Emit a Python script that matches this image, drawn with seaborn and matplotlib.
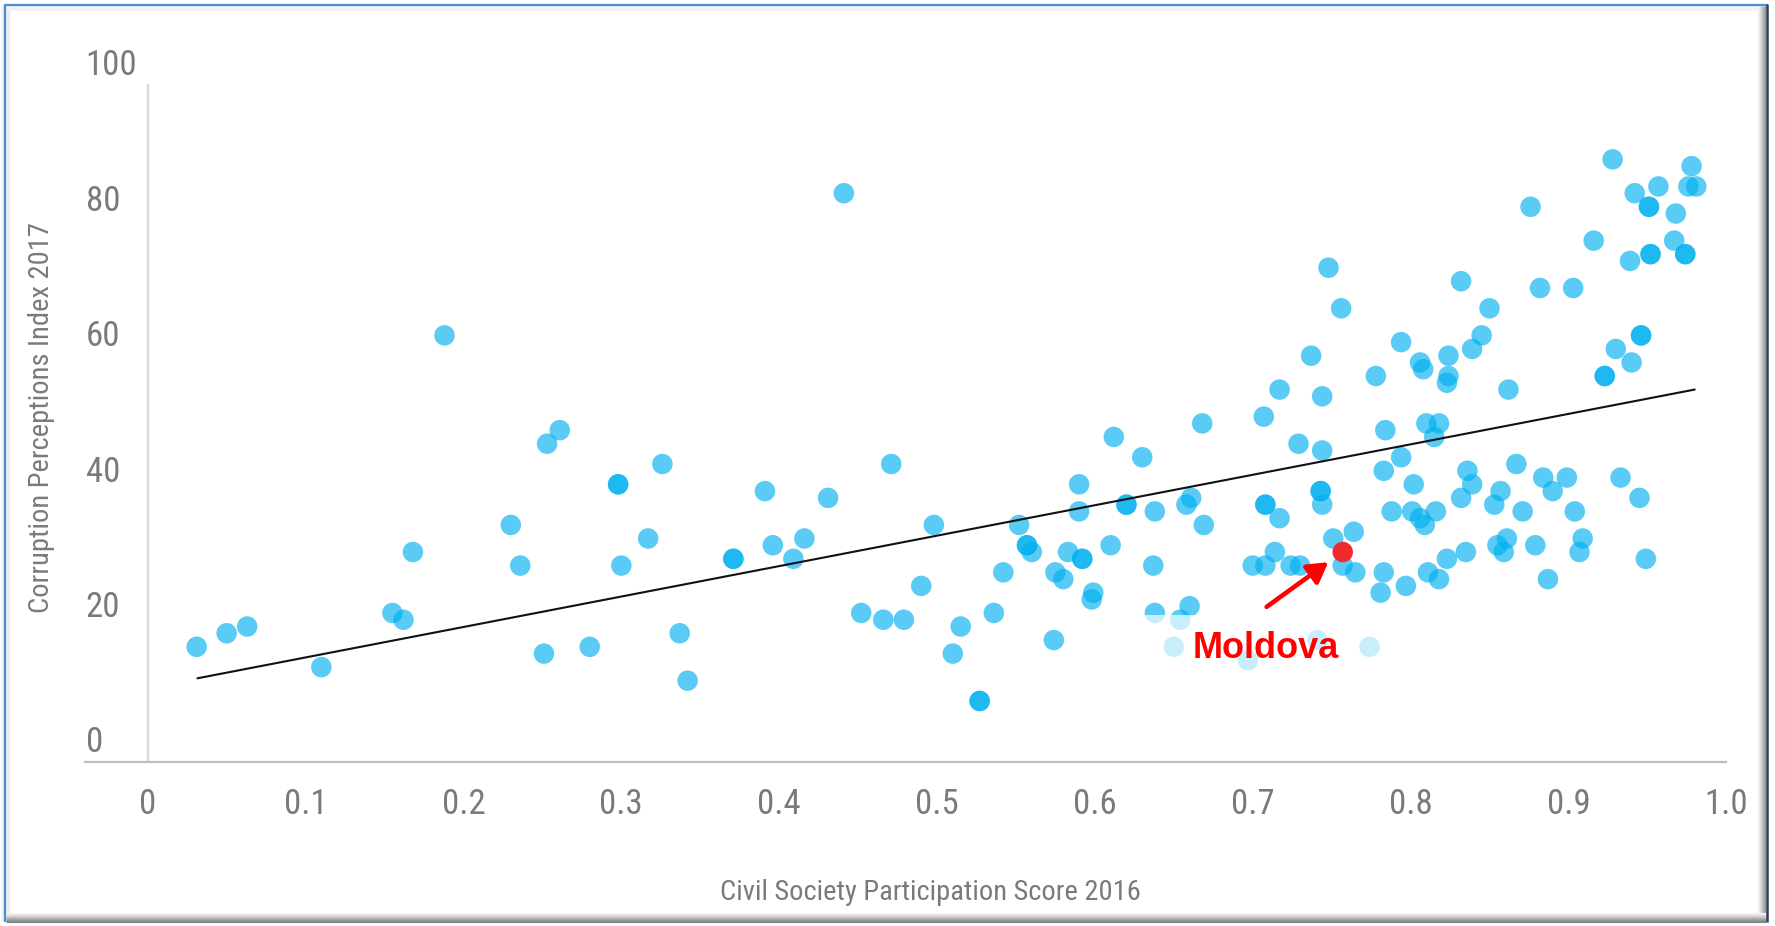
import numpy as np
import pandas as pd
import matplotlib
matplotlib.use("Agg")
import matplotlib.pyplot as plt
import seaborn as sns
from matplotlib import font_manager as fm
from matplotlib.patches import Rectangle
from matplotlib.lines import Line2D
from matplotlib.transforms import ScaledTranslation, IdentityTransform

# ---------------- data ----------------
csp_2016 = [
    0.031, 0.050, 0.063, 0.110, 0.155, 0.162, 0.168, 0.188, 0.230, 0.236,
    0.253, 0.261, 0.251, 0.280, 0.298, 0.298, 0.300, 0.317, 0.326, 0.337,
    0.342, 0.371, 0.371, 0.391, 0.396, 0.409, 0.416, 0.431, 0.441, 0.471,
    0.452, 0.466, 0.479, 0.490, 0.498, 0.515, 0.510, 0.527, 0.527, 0.536,
    0.542, 0.552, 0.557, 0.557, 0.560, 0.575, 0.580, 0.583, 0.592, 0.592,
    0.590, 0.590, 0.599, 0.598, 0.574, 0.610, 0.612, 0.630, 0.620, 0.620,
    0.638, 0.637, 0.638, 0.654, 0.650, 0.660, 0.658, 0.661, 0.668, 0.669,
    0.697, 0.741, 0.774, 0.737, 0.717, 0.744, 0.707, 0.729, 0.744, 0.743,
    0.743, 0.744, 0.708, 0.708, 0.717, 0.714, 0.700, 0.708, 0.724, 0.730,
    0.751, 0.764, 0.757, 0.765, 0.784, 0.778, 0.794, 0.806, 0.808, 0.824,
    0.839, 0.845, 0.824, 0.823, 0.862, 0.810, 0.818, 0.815, 0.794, 0.783,
    0.802, 0.788, 0.801, 0.806, 0.816, 0.836, 0.839, 0.832, 0.857, 0.853,
    0.867, 0.871, 0.884, 0.899, 0.890, 0.904, 0.933, 0.945, 0.949, 0.909,
    0.907, 0.887, 0.879, 0.861, 0.855, 0.859, 0.835, 0.823, 0.811, 0.818,
    0.797, 0.783, 0.781, 0.930, 0.940, 0.923, 0.923, 0.946, 0.946, 0.748,
    0.756, 0.832, 0.850, 0.876, 0.882, 0.903, 0.916, 0.928, 0.942, 0.951,
    0.951, 0.957, 0.967, 0.968, 0.978, 0.976, 0.981, 0.939, 0.952, 0.952,
    0.974, 0.974, 0.809,
]
cpi_2017 = [
    17, 19, 20, 14, 22, 21, 31, 63, 35, 29,
    47, 49, 16, 17, 41, 41, 29, 33, 44, 19,
    12, 30, 30, 40, 32, 30, 33, 39, 84, 44,
    22, 21, 21, 26, 35, 20, 16, 9, 9, 22,
    28, 35, 32, 32, 31, 28, 27, 31, 30, 30,
    41, 37, 25, 24, 18, 32, 48, 45, 38, 38,
    37, 29, 22, 21, 17, 23, 38, 39, 50, 35,
    15, 18, 17, 60, 55, 54, 51, 47, 46, 40,
    40, 38, 38, 38, 36, 31, 29, 29, 29, 29,
    33, 34, 29, 28, 49, 57, 62, 59, 58, 60,
    61, 63, 57, 56, 55, 50, 50, 48, 45, 43,
    41, 37, 37, 36, 37, 43, 41, 39, 40, 38,
    44, 37, 42, 42, 40, 37, 42, 39, 30, 33,
    31, 27, 32, 33, 32, 31, 31, 30, 28, 27,
    26, 28, 25, 61, 59, 57, 57, 63, 63, 73,
    67, 71, 67, 82, 70, 70, 77, 89, 84, 82,
    82, 85, 77, 81, 88, 85, 85, 74, 75, 75,
    75, 75, 35,
]
moldova_csp = [0.757]
moldova_cpi = [31]
moldova_label = "Moldova"

trend_x = [0.0315, 0.980]
trend_y = [12.35, 55.0]

x_ticks = [0, 0.1, 0.2, 0.3, 0.4, 0.5, 0.6, 0.7, 0.8, 0.9, 1.0]
x_tick_labels = ["0", "0.1", "0.2", "0.3", "0.4", "0.5", "0.6", "0.7", "0.8", "0.9", "1.0"]
y_ticks = [0, 20, 40, 60, 80, 100]
y_tick_labels = ["0", "20", "40", "60", "80", "100"]

x_title = "Civil Society Participation Score 2016"
y_title = "Corruption Perceptions Index 2017"

# ---------------- fonts ----------------
sns.set_theme(style="white")
ttf = fm.fontManager.ttflist
names = {f.name for f in ttf}
axis_font, axis_stretch, tick_fs, title_fs = None, "normal", 25, 20.5
for cand in ["Liberation Sans Narrow", "Arial Narrow", "Roboto Condensed",
             "Open Sans Condensed", "DejaVu Sans Condensed"]:
    if cand in names:
        axis_font = cand
        break
if axis_font is None:
    if any(f.name == "DejaVu Sans" and str(f.stretch) in ("condensed", "semi-condensed", "75", "87.5")
           for f in ttf):
        axis_font, axis_stretch, tick_fs, title_fs = "DejaVu Sans", "condensed", 20, 17
    else:
        axis_font, tick_fs, title_fs = "Liberation Sans", 20.5, 17
elif axis_font == "DejaVu Sans Condensed":
    tick_fs, title_fs = 20, 17

plt.rcParams["font.family"] = [axis_font, "DejaVu Sans"]
plt.rcParams["font.stretch"] = axis_stretch

TEXT_GREY = "#7A7A7A"
W, H = 1775, 926

fig = plt.figure(figsize=(W / 100, H / 100), dpi=100)
fig.patch.set_facecolor("white")
x0_px, x1_px, y0_px, y1_px = 84.9, 1726.3, 761.9, 84.9
ax = fig.add_axes([x0_px / W, 1 - y0_px / H, (x1_px - x0_px) / W, (y0_px - y1_px) / H])
ax.set_facecolor("white")

df = pd.DataFrame({"csp": csp_2016, "cpi": cpi_2017})
sns.scatterplot(data=df, x="csp", y="cpi", ax=ax, s=218, color="#00B0F0",
                alpha=0.65, edgecolor="none", linewidth=0, zorder=3, legend=False)
sns.lineplot(x=trend_x, y=trend_y, ax=ax, color="#111111", linewidth=1.5,
             zorder=4, legend=False)
sns.scatterplot(x=moldova_csp, y=moldova_cpi, ax=ax, s=218, color="#F02B2B",
                edgecolor="none", linewidth=0, zorder=5, legend=False)

ax.set_xlim(-0.0398, 1.0)
ax.set_ylim(0, 100)

# spines
for side in ["top", "right"]:
    ax.spines[side].set_visible(False)
ax.spines["left"].set_position(("data", 0))
ax.spines["left"].set_color("#D9D9D9")
ax.spines["left"].set_linewidth(1.6)
ax.spines["bottom"].set_color("#BFBFBF")
ax.spines["bottom"].set_linewidth(1.6)

# ticks
ax.set_xticks(x_ticks)
ax.set_xticklabels(x_tick_labels)
ax.set_yticks(y_ticks)
ax.set_yticklabels(y_tick_labels)
ax.tick_params(axis="both", length=0, labelsize=tick_fs, labelcolor=TEXT_GREY)
ax.tick_params(axis="x", pad=37.2)
ax.tick_params(axis="y", pad=44.6)
for lab in ax.get_xticklabels():
    lab.set_va("baseline")
for lab in ax.get_yticklabels():
    lab.set_ha("left")
    lab.set_va("baseline")
    lab.set_transform(lab.get_transform() + ScaledTranslation(0, 6.8 / 72, fig.dpi_scale_trans))

# axis titles
ax.set_xlabel(x_title, fontsize=title_fs, color=TEXT_GREY)
ax.xaxis.set_label_coords(0.5152, -0.1922)
ax.xaxis.label.set_va("center")
ax.set_ylabel(y_title, fontsize=title_fs, color=TEXT_GREY)
ax.yaxis.set_label_coords(-0.0262, 0.508)
ax.yaxis.label.set_va("center")

# translucent box behind the label (fades the points under it)
ax.add_patch(Rectangle((0.632, 7.0), 0.158, 14.7, facecolor="white", alpha=0.68,
                       edgecolor="none", zorder=6))
ax.text(0.7082, 16.7, moldova_label, color="#FF0000", fontsize=26, fontweight="bold",
        family=["Liberation Sans", "DejaVu Sans"], ha="center", va="center", zorder=8)
ax.annotate("", xy=(0.7479, 29.5), xytext=(0.7088, 22.9),
            arrowprops=dict(arrowstyle="-|>,head_length=0.55,head_width=0.32",
                            color="#FF0000", lw=3.3, shrinkA=0, shrinkB=0,
                            mutation_scale=22),
            zorder=9)

# outer frame with a slight shadow
def px_line(xs, ys, color, lw):
    fig.add_artist(Line2D(xs, [H - y for y in ys], transform=IdentityTransform(),
                          color=color, linewidth=lw, solid_capstyle="butt"))

px_line([6, 6], [5, 921], "#EDEDED", 6)
px_line([6, 1766], [8, 8], "#F2F2F2", 4)
shade_r = ["#F4F4F4", "#EBEBEB", "#E0E0E0", "#D2D2D2", "#C4C4C4", "#B4B4B4", "#A4A4A4", "#959595"]
for i, c in enumerate(shade_r):
    px_line([1758 + i, 1758 + i], [6, 921], c, 0.8)
for i, c in enumerate(shade_r + ["#8A8A8A", "#808080"]):
    px_line([6, 1766], [913 + i, 913 + i], c, 0.8)
px_line([5, 5], [4, 922], "#4A8ED8", 1.6)
px_line([4, 1768], [5, 5], "#4A8ED8", 1.6)
px_line([1767, 1767], [4, 922], "#2E3D57", 1.8)

fig.savefig("out.png", dpi=100, facecolor="white")
